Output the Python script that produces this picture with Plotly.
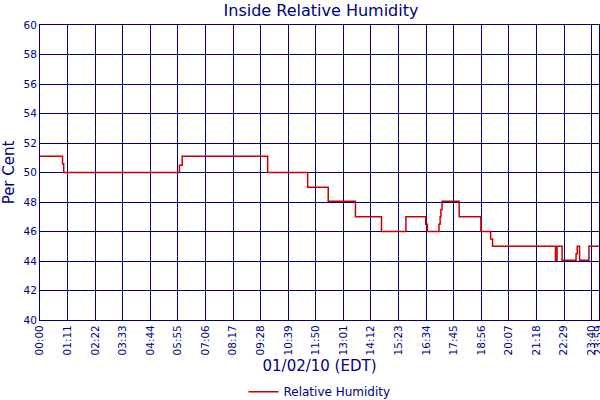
import plotly.graph_objects as go

# Step changes: minute of day when value changes, and the new value
change_minutes = [0, 58, 61, 359, 366, 586, 689, 742, 812, 879, 942, 993, 997,
                  1027, 1030, 1032, 1035, 1079, 1135, 1160, 1165, 1327, 1331,
                  1344, 1380, 1383, 1389, 1413, 1439]
rh_values = [51.1, 50.6, 50.0, 50.5, 51.1, 50.0, 49.0, 48.05, 47.0, 46.0, 47.0, 46.5, 46.0,
             46.5, 47.0, 47.5, 48.05, 47.0, 46.0, 45.5, 45.0, 44.05, 45.0,
             44.05, 44.5, 45.0, 44.05, 45.0, 45.0]

tick_minutes = [0, 71, 142, 213, 284, 355, 426, 497, 568, 639, 710, 781, 852,
                923, 994, 1065, 1136, 1207, 1278, 1349, 1420, 1439]
tick_labels = ["00:00", "01:11", "02:22", "03:33", "04:44", "05:55", "07:06",
               "08:17", "09:28", "10:39", "11:50", "13:01", "14:12", "15:23",
               "16:34", "17:45", "18:56", "20:07", "21:18", "22:29", "23:40", "23:59"]

navy = "#000080"
font_family = "DejaVu Sans"

fig = go.Figure()
fig.add_trace(go.Scatter(
    x=change_minutes, y=rh_values, mode="lines", line_shape="hv",
    line=dict(color="#CC0000", width=1.5), name="Relative Humidity"))

fig.update_layout(
    width=600, height=400,
    margin=dict(l=40, r=1, t=25, b=80, autoexpand=False),
    paper_bgcolor="white", plot_bgcolor="white",
    font=dict(family=font_family, color=navy, size=11),
    title=dict(text="Inside Relative Humidity", x=0.535, xanchor="center",
               y=0.975, yanchor="middle",
               font=dict(size=16, color=navy, family=font_family)),
    showlegend=True,
    legend=dict(orientation="h", x=0.5, xanchor="center", y=-0.194, yanchor="top",
                font=dict(size=12, color=navy, family=font_family)),
)
fig.update_xaxes(
    range=[0, 1439], tickmode="array", tickvals=tick_minutes, ticktext=tick_labels,
    tickangle=-90, showgrid=True, gridcolor=navy, gridwidth=1, automargin=False,
    showline=True, linecolor=navy, linewidth=1, mirror=True, zeroline=False,
    ticks="", tickfont=dict(size=10.5, color=navy), ticklabeloverflow="allow",
    title=dict(text="01/02/10 (EDT)", font=dict(size=15, color=navy), standoff=6),
)
fig.update_yaxes(
    range=[40, 60], dtick=2, showgrid=True, gridcolor=navy, gridwidth=1, automargin=False,
    showline=True, linecolor=navy, linewidth=1, mirror=True, zeroline=False,
    ticks="", tickfont=dict(size=10.5, color=navy),
    title=dict(text="Per Cent", font=dict(size=15, color=navy), standoff=6),
)

fig.write_html("out.html", config={"displayModeBar": False},
               post_script="document.body.style.margin='0';document.body.style.overflow='hidden';")
